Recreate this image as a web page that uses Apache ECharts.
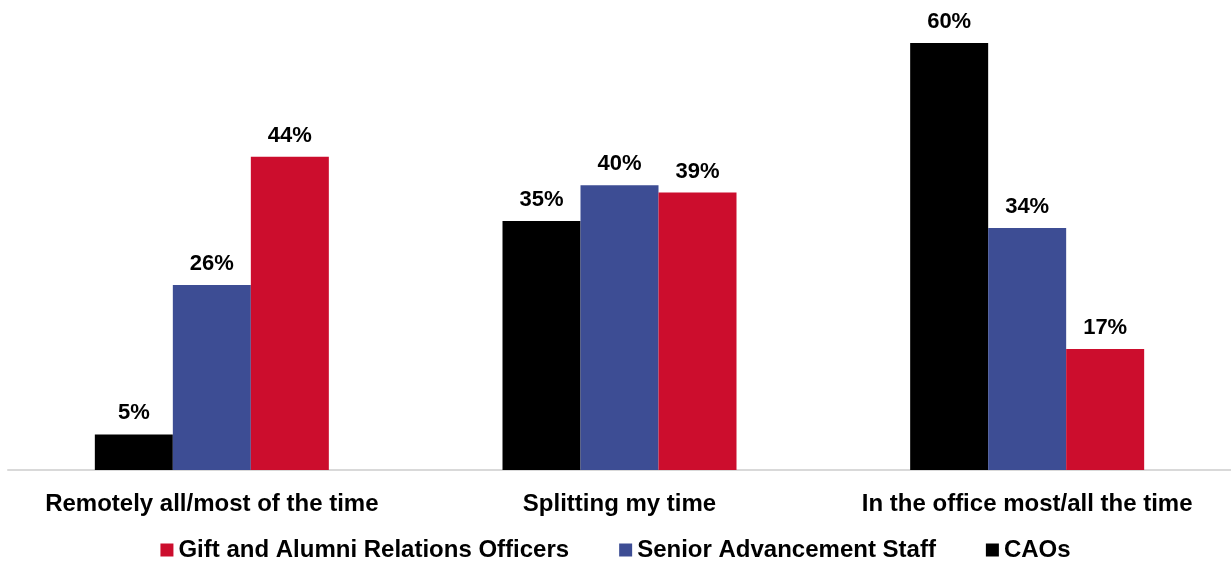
<!DOCTYPE html>
<html>
<head>
<meta charset="utf-8">
<script src="https://cdn.jsdelivr.net/npm/echarts@6/dist/echarts.min.js"></script>
<style>
  html, body { margin: 0; padding: 0; background: #fff; }
  #chart { width: 1231px; height: 561px; }
</style>
</head>
<body>
<div id="chart"></div>
<script>
// categories and values (percent)
const categories = ['Remotely all/most of the time', 'Splitting my time', 'In the office most/all the time'];
const caos = [5, 35, 60];
const seniorStaff = [26, 40, 34];
const giftOfficers = [44, 39, 17];

const chart = echarts.init(document.getElementById('chart'));

const labelStyle = {
  show: true,
  position: 'top',
  distance: 10,
  formatter: '{c}%',
  color: '#000',
  fontFamily: 'Liberation Sans, Arial, sans-serif',
  fontWeight: 'bold',
  fontSize: 22
};

const option = {
  animation: false,
  grid: {
    left: 8,
    right: 0,
    top: 43,
    bottom: 91
  },
  legend: {
    data: ['Gift and Alumni Relations Officers', 'Senior Advancement Staff', 'CAOs'],
    bottom: -6,
    left: 'center',
    icon: 'rect',
    itemWidth: 13,
    itemHeight: 13,
    itemGap: 50,
    textStyle: {
      color: '#000',
      fontFamily: 'Liberation Sans, Arial, sans-serif',
      fontWeight: 'bold',
      fontSize: 24
    }
  },
  xAxis: {
    type: 'category',
    data: categories,
    axisLine: { lineStyle: { color: '#d9d9d9', width: 2 } },
    axisTick: { show: false },
    axisLabel: {
      interval: 0,
      color: '#000',
      fontFamily: 'Liberation Sans, Arial, sans-serif',
      fontWeight: 'bold',
      fontSize: 24,
      margin: 22
    }
  },
  yAxis: {
    type: 'value',
    min: 0,
    max: 60,
    show: false
  },
  series: [
    {
      name: 'CAOs',
      type: 'bar',
      data: caos,
      barWidth: 78,
      barGap: '0%',
      itemStyle: { color: '#000000' },
      label: labelStyle
    },
    {
      name: 'Senior Advancement Staff',
      type: 'bar',
      data: seniorStaff,
      barWidth: 78,
      barGap: '0%',
      itemStyle: { color: '#3d4d94' },
      label: labelStyle
    },
    {
      name: 'Gift and Alumni Relations Officers',
      type: 'bar',
      data: giftOfficers,
      barWidth: 78,
      barGap: '0%',
      itemStyle: { color: '#cc0d2d' },
      label: labelStyle
    }
  ]
};

chart.setOption(option);
</script>
</body>
</html>
